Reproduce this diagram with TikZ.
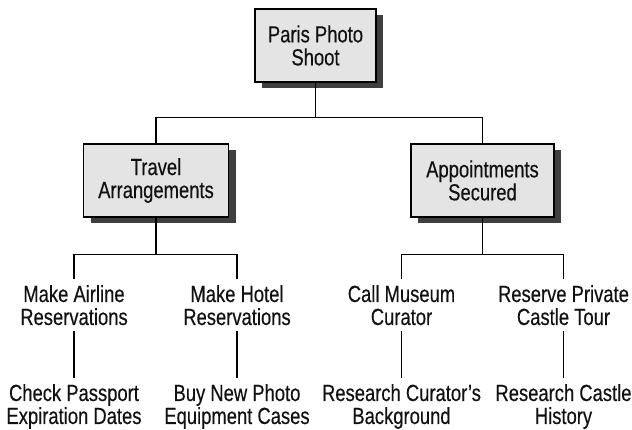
\documentclass[tikz,border=0pt]{standalone}
\usepackage{fontspec}
\setmainfont{Liberation Sans}[FakeStretch=0.79,FakeBold=0.35]
\usetikzlibrary{shadows}
\definecolor{boxfill}{HTML}{E4E4E4}
\definecolor{shade}{HTML}{3F3F3F}
\definecolor{ink}{HTML}{111111}
\tikzset{
  lbl/.style={font={\fontsize{23.3pt}{23pt}\selectfont}, text=ink, align=center, inner xsep=0pt, inner ysep=5.9pt},
  box/.style={lbl, draw=black, line width=1.1pt, fill=boxfill, minimum height=73pt,
    drop shadow={shadow xshift=7pt, shadow yshift=-6pt, fill=shade, opacity=1}},
  leaf/.style={lbl, anchor=north},
  conn/.style={draw=black, line width=1.1pt}
}
\begin{document}
\begin{tikzpicture}[x=1pt,y=-1pt]
\useasboundingbox (0,0) rectangle (632,429);
\node[box, minimum width=121pt] (root) at (315.5,45.5) {Paris Photo\\Shoot};
\node[box, minimum width=145pt] (tr) at (156,180.5) {Travel\\Arrangements};
\node[box, minimum width=143pt] (ap) at (482.5,180.5) {Appointments\\Secured};

\node[leaf] (ma) at (74,279) {Make Airline\\Reservations};
\node[leaf] (mh) at (237,279) {Make Hotel\\Reservations};
\node[leaf] (cm) at (401.5,279) {Call Museum\\Curator};
\node[leaf] (rp) at (563.5,279) {Reserve Private\\Castle Tour};

\node[leaf] (cp) at (74,378) {Check Passport\\Expiration Dates};
\node[leaf] (bn) at (237,378) {Buy New Photo\\Equipment Cases};
\node[leaf] (rc) at (401.5,378) {Research Curator’s\\Background};
\node[leaf] (rh) at (563.5,378) {Research Castle\\History};

\draw[conn] (root.south) -- ++(0,35) coordinate (rj);
\draw[conn] (rj) -| (tr.north);
\draw[conn] (rj) -| (ap.north);

\draw[conn] (tr.south) -- ++(0,36.5) coordinate (tj);
\draw[conn] (tj) -| (ma.north);
\draw[conn] (tj) -| (mh.north);

\draw[conn] (ap.south) -- ++(0,36.5) coordinate (aj);
\draw[conn] (aj) -| (cm.north);
\draw[conn] (aj) -| (rp.north);

\draw[conn] (ma.south) -- (cp.north);
\draw[conn] (mh.south) -- (bn.north);
\draw[conn] (cm.south) -- (rc.north);
\draw[conn] (rp.south) -- (rh.north);
\end{tikzpicture}
\end{document}
